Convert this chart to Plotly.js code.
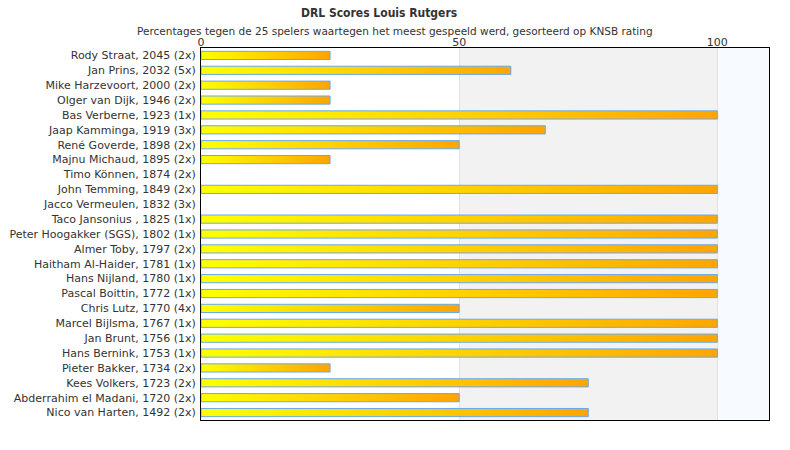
<!DOCTYPE html>
<html>
<head>
<meta charset="utf-8">
<script src="https://cdn.plot.ly/plotly-3.0.1.min.js"></script>
<style>
  html, body { margin: 0; padding: 0; background: #ffffff; }
  #chart { width: 790px; height: 450px; }
</style>
</head>
<body>
<div id="chart"></div>
<script>
(function() {
    'use strict';

    // Players, sorted by KNSB rating
    var players = [
        'Rody Straat, 2045 (2x)',
        'Jan Prins, 2032 (5x)',
        'Mike Harzevoort, 2000 (2x)',
        'Olger van Dijk, 1946 (2x)',
        'Bas Verberne, 1923 (1x)',
        'Jaap Kamminga, 1919 (3x)',
        'René Goverde, 1898 (2x)',
        'Majnu Michaud, 1895 (2x)',
        'Timo Können, 1874 (2x)',
        'John Temming, 1849 (2x)',
        'Jacco Vermeulen, 1832 (3x)',
        'Taco Jansonius , 1825 (1x)',
        'Peter Hoogakker (SGS), 1802 (1x)',
        'Almer Toby, 1797 (2x)',
        'Haitham Al-Haider, 1781 (1x)',
        'Hans Nijland, 1780 (1x)',
        'Pascal Boittin, 1772 (1x)',
        'Chris Lutz, 1770 (4x)',
        'Marcel Bijlsma, 1767 (1x)',
        'Jan Brunt, 1756 (1x)',
        'Hans Bernink, 1753 (1x)',
        'Pieter Bakker, 1734 (2x)',
        'Kees Volkers, 1723 (2x)',
        'Abderrahim el Madani, 1720 (2x)',
        'Nico van Harten, 1492 (2x)'
    ];

    // Score percentage against each player
    var scores = [25, 60, 25, 25, 100, 66.67, 50, 25, 0, 100, 0, 100, 100, 100,
                  100, 100, 100, 50, 100, 100, 100, 25, 75, 50, 75];

    var tickValues = [0, 50, 100];

    var font = { family: '"DejaVu Sans", sans-serif', size: 11, color: '#333333' };

    var trace = {
        type: 'bar',
        orientation: 'h',
        x: scores,
        y: players,
        width: 0.55,
        marker: {
            color: '#ffd200',
            // no outline on empty bars
            line: { color: '#66aaee', width: scores.map(function(v) { return v > 0 ? 1 : 0; }) }
        },
        hoverinfo: 'x+y'
    };

    var layout = {
        width: 790,
        height: 450,
        margin: { t: 48, r: 21, b: 30, l: 201 },
        paper_bgcolor: '#ffffff',
        plot_bgcolor: '#ffffff',
        font: font,
        showlegend: false,
        xaxis: {
            side: 'top',
            range: [0, 110],
            tickvals: tickValues,
            ticktext: tickValues.map(String),
            ticks: '',
            ticklabelstandoff: -3,
            showgrid: true,
            gridcolor: '#e2e2e2',
            zeroline: false,
            showline: true,
            mirror: true,
            linecolor: '#000000',
            linewidth: 1,
            tickfont: font,
            fixedrange: true
        },
        yaxis: {
            type: 'category',
            autorange: 'reversed',
            ticks: '',
            showgrid: false,
            zeroline: false,
            showline: true,
            mirror: true,
            linecolor: '#000000',
            linewidth: 1,
            tickfont: font,
            ticklabelstandoff: 2,
            fixedrange: true
        },
        shapes: [
            { type: 'rect', xref: 'x', yref: 'paper', x0: 50, x1: 100, y0: 0, y1: 1,
              fillcolor: '#f2f2f2', line: { width: 0 }, layer: 'below' },
            { type: 'rect', xref: 'x', yref: 'paper', x0: 100, x1: 110, y0: 0, y1: 1,
              fillcolor: '#f7fafe', line: { width: 0 }, layer: 'below' }
        ],
        annotations: [
            { text: '<b>DRL Scores Louis Rutgers</b>', xref: 'paper', yref: 'paper',
              x: 0.3134, xanchor: 'center', y: 1, yanchor: 'middle', yshift: 35, showarrow: false,
              font: { family: '"DejaVu Sans Condensed", "DejaVu Sans", sans-serif', size: 12, color: '#333333' } },
            { text: 'Percentages tegen de 25 spelers waartegen het meest gespeeld werd, gesorteerd op KNSB rating',
              xref: 'paper', yref: 'paper', x: 0.3415, xanchor: 'center', y: 1, yanchor: 'middle', yshift: 17, showarrow: false,
              font: { family: font.family, size: 10.5, color: '#333333' } }
        ],
        bargap: 0.45
    };

    Plotly.newPlot('chart', [trace], layout, { displayModeBar: false, staticPlot: true }).then(function(gd) {
        // yellow-to-orange gradient on each bar
        var svg = gd.querySelector('svg.main-svg');
        var defs = svg.querySelector('defs');
        var ns = 'http://www.w3.org/2000/svg';
        var grad = document.createElementNS(ns, 'linearGradient');
        grad.setAttribute('id', 'barGrad');
        grad.setAttribute('x1', '0');
        grad.setAttribute('x2', '1');
        grad.setAttribute('y1', '0');
        grad.setAttribute('y2', '0');
        [['0', '#ffff00'], ['1', '#ffa500']].forEach(function(s) {
            var stop = document.createElementNS(ns, 'stop');
            stop.setAttribute('offset', s[0]);
            stop.setAttribute('stop-color', s[1]);
            grad.appendChild(stop);
        });
        defs.appendChild(grad);
        gd.querySelectorAll('.barlayer .point path').forEach(function(p) {
            p.style.fill = 'url(#barGrad)';
        });
    });
})();
</script>
</body>
</html>
